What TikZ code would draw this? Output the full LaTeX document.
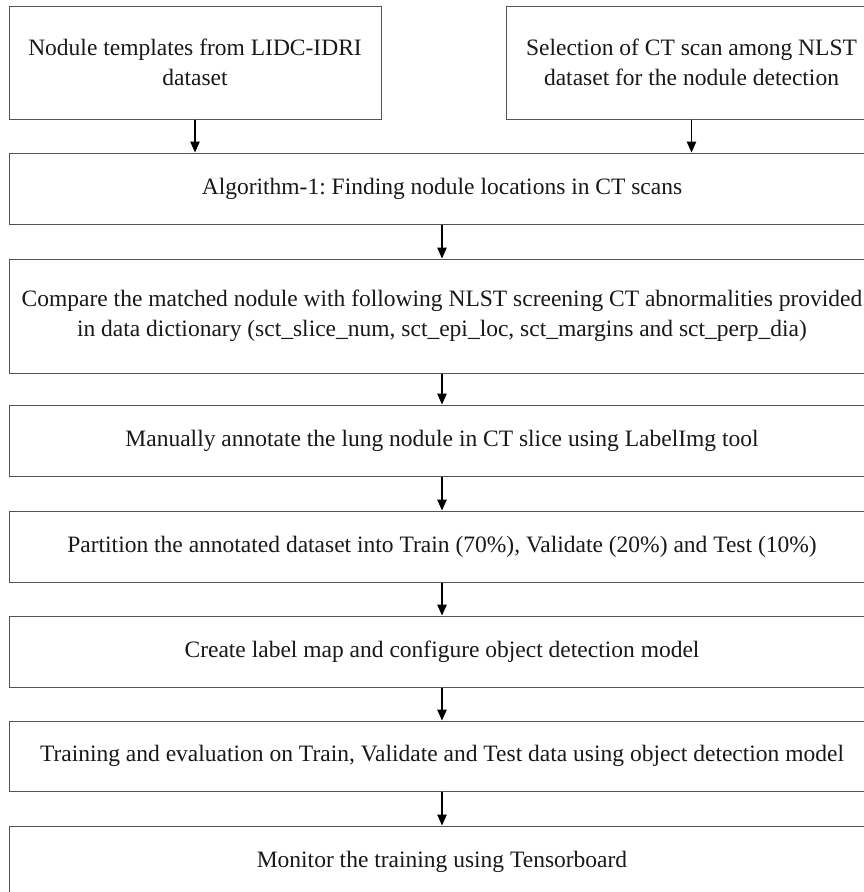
\documentclass[tikz,border=0pt]{standalone}
\usepackage{fontspec}
\setmainfont{Liberation Serif}
\usetikzlibrary{arrows.meta}
\definecolor{edge}{rgb}{0.33,0.33,0.33}
\tikzset{
  stepbox/.style={draw=edge, line width=1pt, fill=white, inner sep=0pt, align=center,
    font=\fontsize{23.5}{30}\selectfont\frenchspacing, text=black!90},
  wide/.style={stepbox, minimum width=866pt},
  arr/.style={draw=black, line width=1.1pt, -{Triangle[length=11pt,width=9.5pt]}}
}
\begin{document}
\begin{tikzpicture}[x=1pt,y=1pt]
\useasboundingbox (0,0) rectangle (864,-892);
\clip (0,0) rectangle (864,-892);
\fill[white] (0,0) rectangle (864,-892);
\node[stepbox, minimum width=372pt, minimum height=113pt] (a) at (195,-62.5)
  {Nodule templates from LIDC-IDRI\\dataset};
\node[stepbox, minimum width=371pt, minimum height=113pt] (b) at (691.5,-62.5)
  {Selection of CT scan among NLST\\dataset for the nodule detection};
\node[wide, minimum height=71pt] (c) at (442,-188.5)
  {Algorithm-1: Finding nodule locations in CT scans};
\node[wide, minimum height=114pt] (d) at (442,-316)
  {Compare the matched nodule with following NLST screening CT abnormalities provided\\in data dictionary (sct\_slice\_num, sct\_epi\_loc, sct\_margins and sct\_perp\_dia)};
\node[wide, minimum height=71pt] (e) at (442,-440.5)
  {Manually annotate the lung nodule in CT slice using LabelImg tool};
\node[wide, minimum height=71pt] (f) at (442,-546.5)
  {Partition the annotated dataset into Train (70\%), Validate (20\%) and Test (10\%)};
\node[wide, minimum height=71pt] (g) at (442,-651.5)
  {Create label map and configure object detection model};
\node[wide, minimum height=70pt] (h) at (442,-756)
  {Training and evaluation on Train, Validate and Test data using object detection model};
\node[wide, minimum height=71pt] (i) at (442,-861.5)
  {Monitor the training using Tensorboard};
\draw[arr] (a.south) -- (a.south |- c.north);
\draw[arr] (b.south) -- (b.south |- c.north);
\draw[arr] (c.south) -- (d.north);
\draw[arr] (d.south) -- (e.north);
\draw[arr] (e.south) -- (f.north);
\draw[arr] (f.south) -- (g.north);
\draw[arr] (g.south) -- (h.north);
\draw[arr] (h.south) -- (i.north);
\end{tikzpicture}
\end{document}
